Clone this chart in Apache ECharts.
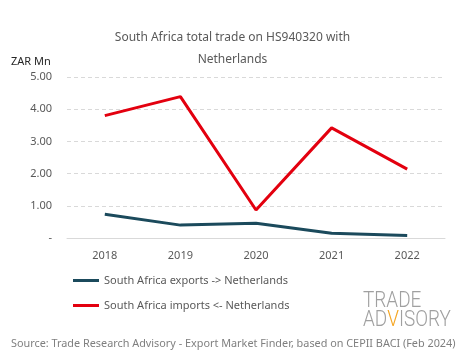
<!DOCTYPE html>
<html><head><meta charset="utf-8">
<script src="https://cdn.jsdelivr.net/npm/echarts@6/dist/echarts.min.js"></script>
<style>html,body{margin:0;padding:0;background:#fff}#c{width:465px;height:359px}</style>
</head><body><div id="c"></div>
<script>
const years = ['2018','2019','2020','2021','2022'];
const exportsNL = [0.74, 0.40, 0.46, 0.15, 0.08];
const importsNL = [3.80, 4.39, 0.87, 3.42, 2.14];
const yTicks = [0, 1, 2, 3, 4, 5];
const seriesNames = ['South Africa exports -> Netherlands', 'South Africa imports <- Netherlands'];

const FONT = '"Noto Sans", sans-serif';
const chart = echarts.init(document.getElementById('c'), null, {renderer:'canvas'});
chart.setOption({
  animation: false,
  backgroundColor: '#fff',
  title: {
    text: 'South Africa total trade on HS940320 with\nNetherlands',
    left: 'center', top: 22,
    textStyle: {fontFamily: FONT, fontSize: 12, fontWeight: 'normal', color: '#595959', lineHeight: 22}
  },
  grid: {left: 67, right: 20, top: 77, bottom: 121},
  xAxis: {
    type: 'category', data: years, boundaryGap: true,
    axisLine: {lineStyle: {color: '#d9d9d9', width: 1}},
    axisTick: {show: false},
    axisLabel: {fontFamily: FONT, fontSize: 11, color: '#595959', margin: 12}
  },
  yAxis: {
    type: 'value', min: yTicks[0], max: yTicks[yTicks.length-1], interval: 1,
    name: 'ZAR Mn', nameLocation: 'end', nameGap: 10,
    nameTextStyle: {fontFamily: FONT, fontSize: 11, color: '#262626', align: 'left', padding: [0,0,0,-56]},
    axisLine: {show: false}, axisTick: {show: false},
    splitLine: {lineStyle: {color: '#d9d9d9', type: [4,3], width: 1}},
    axisLabel: {fontFamily: FONT, fontSize: 11, color: '#595959', margin: 15,
      formatter: v => v === 0 ? '-' : v.toFixed(2)}
  },
  legend: {
    orient: 'vertical', left: 68, top: 270, itemGap: 14,
    icon: 'rect', itemWidth: 26, itemHeight: 3,
    textStyle: {fontFamily: FONT, fontSize: 11, color: '#595959'},
    data: seriesNames
  },
  series: [
    {name: seriesNames[0], type: 'line', data: exportsNL, symbol: 'none',
     lineStyle: {color: '#1B4A5C', width: 3}, itemStyle: {color: '#1B4A5C'}},
    {name: seriesNames[1], type: 'line', data: importsNL, symbol: 'none',
     lineStyle: {color: '#E3000F', width: 3}, itemStyle: {color: '#E3000F'}}
  ],
  graphic: [
    {type: 'text', left: 11, top: 338,
     style: {text: 'Source: Trade Research Advisory - Export Market Finder, based on CEPII BACI (Feb 2024)',
       font: '10.85px "Noto Sans", sans-serif', fill: '#7f7f7f'}},
    {type: 'text', x: 363, y: 290, scaleX: 0.86,
     style: {text: 'TRADE', font: '300 22px Roboto, sans-serif', fill: '#a0a0a0'}},
    {type: 'text', x: 363, y: 309, scaleX: 0.86,
     style: {text: '{g|AD}{o|V}{g|ISORY}', font: '300 22px Roboto, sans-serif',
       rich: {g: {fill: '#a0a0a0', font: '300 22px Roboto, sans-serif'}, o: {fill: '#F5A623', font: '300 22px Roboto, sans-serif'}}}}
  ]
});
</script></body></html>
